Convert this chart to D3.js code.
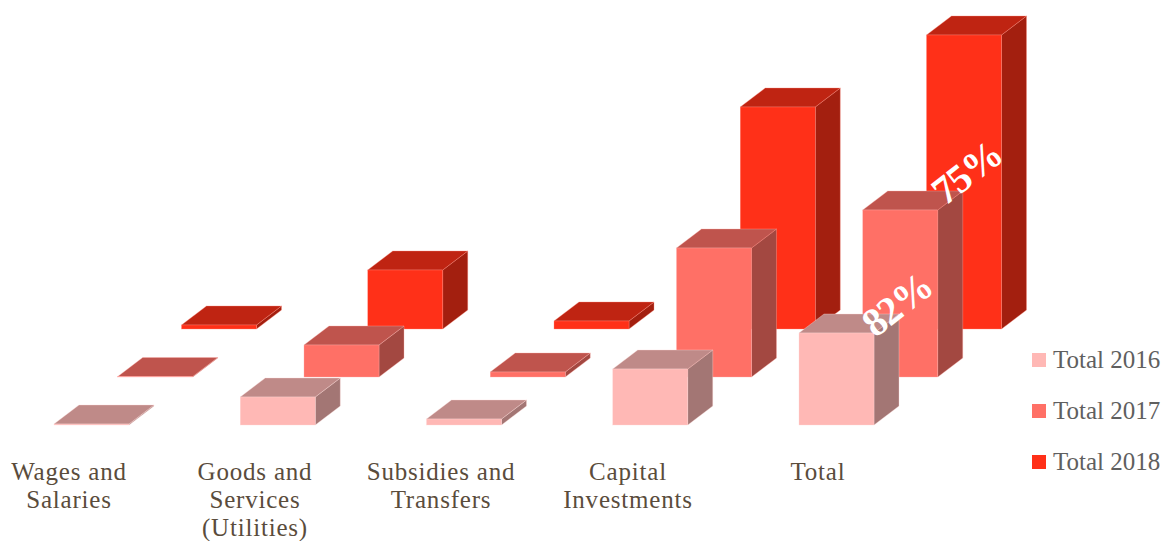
<!DOCTYPE html>
<html>
<head>
<meta charset="utf-8">
<style>
  html, body { margin: 0; padding: 0; background: #fff; }
  svg { display: block; }
  text { font-family: "Liberation Serif", "DejaVu Serif", serif; }
</style>
<script src="https://cdn.jsdelivr.net/npm/d3@7/dist/d3.min.js"></script>
</head>
<body>
<svg id="chart" width="1162" height="541"></svg>
<script>
// Spending by category, one row of boxes per year
const categories = ["Wages and Salaries", "Goods and Services (Utilities)", "Subsidies and Transfers", "Capital Investments", "Total"];
const categoryLines = [["Wages and", "Salaries"], ["Goods and", "Services", "(Utilities)"], ["Subsidies and", "Transfers"], ["Capital", "Investments"], ["Total"]];
const seriesNames = ["Total 2016", "Total 2017", "Total 2018"];
const total2016 = [1, 28, 6, 56, 92];
const total2017 = [0.5, 32, 5, 129, 167];
const total2018 = [4, 59, 8, 222, 294];
const seriesValues = [total2016, total2017, total2018];
const frontColors = ["#ffb8b5", "#ff7066", "#ff3018"];
const rateLabels = [
  { series: 1, category: 4, text: "82%", dx: 5, dy: 105 },
  { series: 2, category: 4, text: "75%", dx: 11, dy: 148 }
];

const svg = d3.select("#chart");

// Box depth in the oblique projection
const depthX = 25, depthY = -19, barWidth = 75;

// Position of a category along the floor, and the shift each year adds going back
const x = d3.scalePoint().domain(d3.range(categories.length)).range([54, 799]);
const seriesX = d3.scalePoint().domain(d3.range(seriesNames.length)).range([0, 127.5]);
const seriesY = d3.scalePoint().domain(d3.range(seriesNames.length)).range([425, 329]);
const height = d3.scaleLinear().domain([0, 300]).range([0, 300]);

const shade = (c, k) => {
  const o = d3.rgb(c);
  return d3.rgb(o.r * k, o.g * k, o.b * k).formatHex();
};
const poly = pts => pts.map(p => p.join(",")).join(" ");

// Back rows first so nearer boxes overlap them
[2, 1, 0].forEach(s => {
  const row = svg.append("g").attr("class", "series");
  const base = seriesY(s);
  seriesValues[s].forEach((v, c) => {
    const x0 = x(c) + seriesX(s), x1 = x0 + barWidth;
    const top = base - height(v);
    const g = row.append("g");
    const edge = d3.interpolateRgb(frontColors[s], "#ffffff")(0.45);
    g.append("polygon")
      .attr("points", poly([[x1, base], [x1 + depthX, base + depthY], [x1 + depthX, top + depthY], [x1, top]]))
      .attr("fill", shade(frontColors[s], 0.64)).attr("stroke", edge).attr("stroke-width", 0.35);
    g.append("polygon")
      .attr("points", poly([[x0, top], [x0 + depthX, top + depthY], [x1 + depthX, top + depthY], [x1, top]]))
      .attr("fill", shade(frontColors[s], 0.75)).attr("stroke", edge).attr("stroke-width", 0.35);
    g.append("rect")
      .attr("x", x0).attr("y", top).attr("width", barWidth).attr("height", height(v))
      .attr("fill", frontColors[s]).attr("stroke", edge).attr("stroke-width", 0.35);
  });
});

// Rate labels laid along the floor diagonal
rateLabels.forEach(d => {
  const cx = x(d.category) + seriesX(d.series) + barWidth / 2 + d.dx;
  const cy = seriesY(d.series) - height(seriesValues[d.series][d.category]) + d.dy;
  svg.append("text")
    .attr("transform", `translate(${cx},${cy}) rotate(-38)`)
    .attr("text-anchor", "middle")
    .attr("fill", "#fff")
    .attr("font-size", 40)
    .attr("font-weight", 700)
    .attr("letter-spacing", -1.2)
    .text(d.text);
});

// Category captions under the front row
const labelX = [69, 255, 441, 628, 818];
categoryLines.forEach((lines, c) => {
  const t = svg.append("text")
    .attr("text-anchor", "middle")
    .attr("fill", "#5a4c3c")
    .attr("font-size", 25)
    .attr("letter-spacing", 0.8);
  lines.forEach((line, i) => {
    t.append("tspan").attr("x", labelX[c]).attr("y", 479.5 + i * 28).text(line);
  });
});

// Legend
const legendY = d3.scalePoint().domain(d3.range(seriesNames.length)).range([360, 462]);
seriesNames.forEach((name, s) => {
  svg.append("rect")
    .attr("x", 1032).attr("y", legendY(s) - 7).attr("width", 14).attr("height", 14)
    .attr("fill", frontColors[s]);
  svg.append("text")
    .attr("x", 1053).attr("y", legendY(s) + 7.5)
    .attr("fill", "#5f5f5f")
    .attr("font-size", 25)
    .text(name);
});
</script>
</body>
</html>
